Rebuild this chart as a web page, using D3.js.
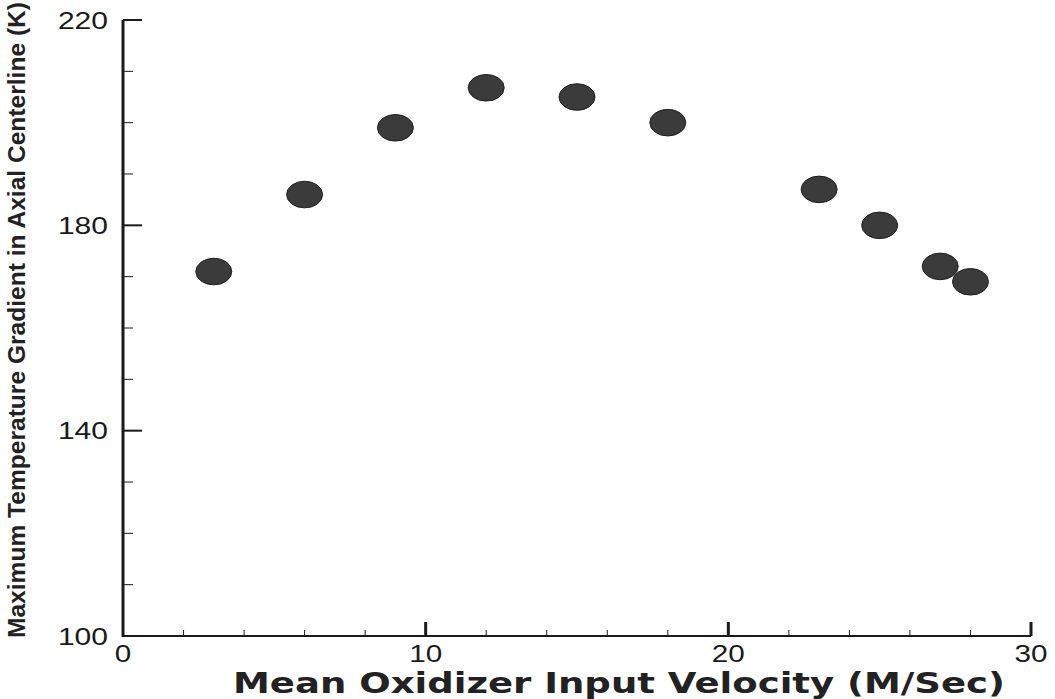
<!DOCTYPE html>
<html>
<head>
<meta charset="utf-8">
<script src="https://cdn.jsdelivr.net/npm/d3@7"></script>
<style>
  html, body { margin: 0; padding: 0; background: #fff; }
  svg { display: block; }
</style>
</head>
<body>
<svg id="chart" width="1055" height="699"></svg>
<script>
// Data
const velocity = [3, 6, 9, 12, 15, 18, 23, 25, 27, 28];
const gradient = [171, 186, 199, 206.8, 205, 200, 187, 180, 172, 169];
const xMajorTicks = [0, 10, 20, 30];
const xMinorTicks = [2, 4, 6, 8, 12, 14, 16, 18, 22, 24, 26, 28];
const yMajorTicks = [100, 140, 180, 220];
const yMinorTicks = [110, 120, 130, 150, 160, 170, 190, 200, 210];
const xTitle = "Mean Oxidizer Input Velocity (M/Sec)";
const yTitle = "Maximum Temperature Gradient in Axial Centerline (K)";

const svg = d3.select("#chart");
const x = d3.scaleLinear().domain([0, 30]).range([123, 1031]);
const y = d3.scaleLinear().domain([100, 220]).range([636, 20]);
const ink = "#1a1a1a";

// Axes lines
svg.append("line").attr("x1", x(0)).attr("x2", x(0)).attr("y1", y(220)).attr("y2", y(100) + 1)
  .attr("stroke", ink).attr("stroke-width", 3);
svg.append("line").attr("x1", x(0) - 1).attr("x2", x(30)).attr("y1", y(100)).attr("y2", y(100))
  .attr("stroke", ink).attr("stroke-width", 2);

// Y ticks
svg.selectAll(".ymaj").data(yMajorTicks.filter(d => d !== 100)).enter().append("line")
  .attr("x1", x(0)).attr("x2", x(0) + 19).attr("y1", d => y(d)).attr("y2", d => y(d))
  .attr("stroke", ink).attr("stroke-width", 2);
svg.selectAll(".ymin").data(yMinorTicks).enter().append("line")
  .attr("x1", x(0)).attr("x2", x(0) + 10).attr("y1", d => y(d)).attr("y2", d => y(d))
  .attr("stroke", ink).attr("stroke-width", 1);

// X ticks
svg.selectAll(".xmaj").data(xMajorTicks.filter(d => d !== 0)).enter().append("line")
  .attr("x1", d => x(d)).attr("x2", d => x(d)).attr("y1", y(100)).attr("y2", y(100) - 14)
  .attr("stroke", ink).attr("stroke-width", 3);
svg.selectAll(".xmin").data(xMinorTicks).enter().append("line")
  .attr("x1", d => x(d)).attr("x2", d => x(d)).attr("y1", y(100)).attr("y2", y(100) - 6)
  .attr("stroke", ink).attr("stroke-width", 1);

// Tick labels
const lblFont = "'Liberation Sans', Arial, sans-serif";
svg.selectAll(".ylab").data(yMajorTicks).enter().append("text")
  .attr("x", 108).attr("y", d => y(d)).attr("dy", "0.36em")
  .attr("text-anchor", "end")
  .attr("font-family", lblFont).attr("font-size", 24)
  .attr("textLength", d => String(d).length * 16.7).attr("lengthAdjust", "spacingAndGlyphs")
  .attr("fill", ink).text(d => d);
svg.selectAll(".xlab").data(xMajorTicks).enter().append("text")
  .attr("x", d => x(d)).attr("y", 662)
  .attr("text-anchor", "middle")
  .attr("font-family", lblFont).attr("font-size", 23)
  .attr("textLength", d => String(d).length * 16.5).attr("lengthAdjust", "spacingAndGlyphs")
  .attr("fill", ink).text(d => d);

// Titles
svg.append("text")
  .attr("x", 619).attr("y", 693)
  .attr("text-anchor", "middle")
  .attr("font-family", "'DejaVu Sans', Verdana, sans-serif").attr("font-weight", "bold").attr("font-size", 28)
  .attr("textLength", 772).attr("lengthAdjust", "spacingAndGlyphs")
  .attr("fill", "#222").text(xTitle);
svg.append("text")
  .attr("transform", "translate(25,320) rotate(-90)")
  .attr("text-anchor", "middle")
  .attr("font-family", "'Liberation Sans Narrow', 'Arial Narrow', 'Liberation Sans', sans-serif")
  .attr("font-weight", "bold").attr("font-size", 24)
  .attr("textLength", 636).attr("lengthAdjust", "spacingAndGlyphs")
  .attr("fill", "#222").text(yTitle);

// Points
svg.selectAll(".pt").data(velocity.map((v, i) => [v, gradient[i]])).enter().append("ellipse")
  .attr("cx", d => x(d[0])).attr("cy", d => y(d[1]))
  .attr("rx", 18).attr("ry", 13.3)
  .attr("fill", "#3b3b3b").attr("stroke", "#1e1e1e").attr("stroke-width", 1);
</script>
</body>
</html>
